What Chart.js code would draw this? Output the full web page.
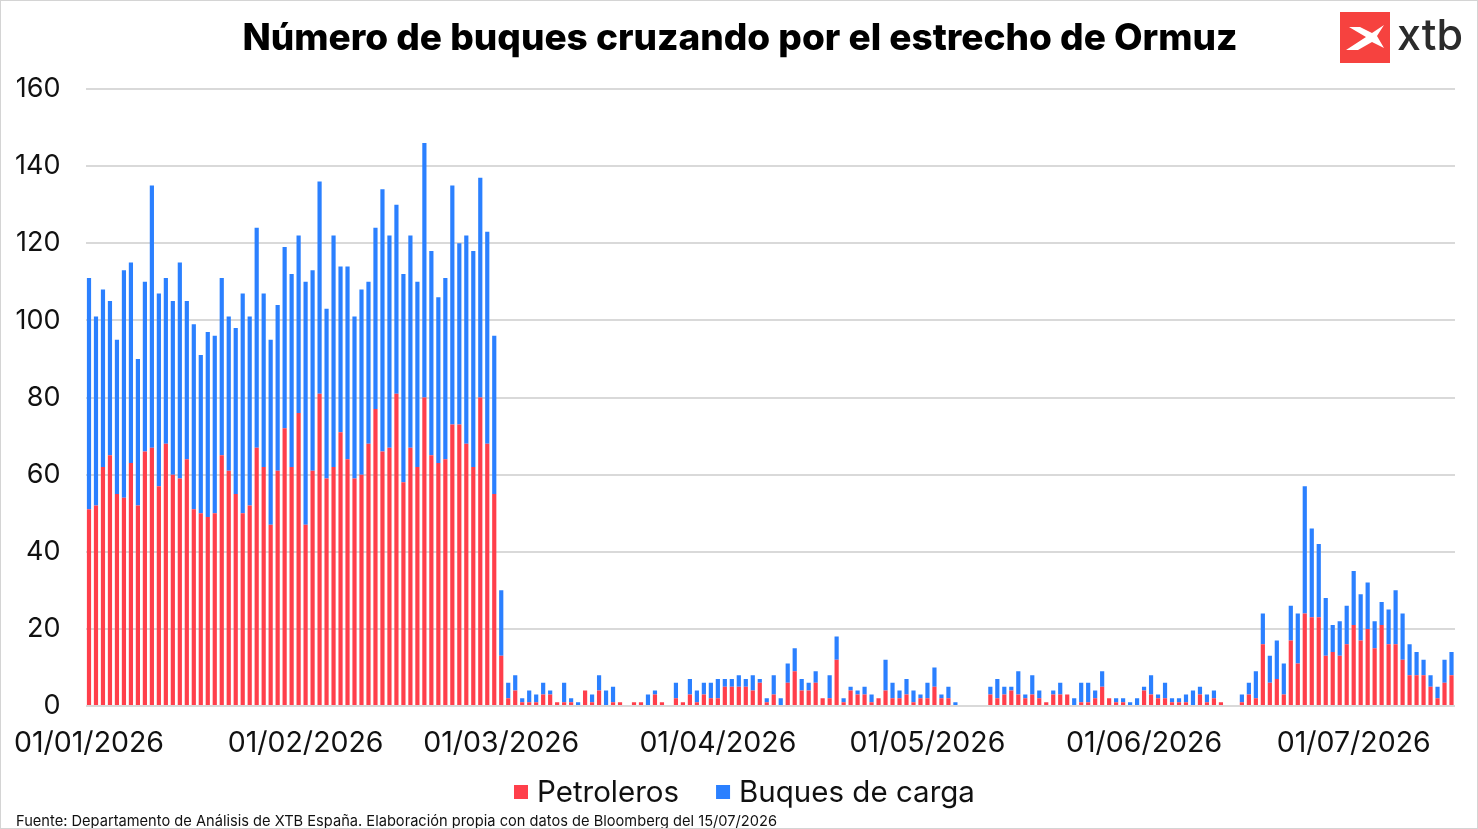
<!DOCTYPE html>
<html lang="es">
<head>
<meta charset="utf-8">
<title>Número de buques cruzando por el estrecho de Ormuz</title>
<script src="https://cdn.jsdelivr.net/npm/chart.js@4.4.1/dist/chart.umd.min.js"></script>
<style>
    html, body { margin: 0; padding: 0; background: #fff; }
    #wrap { width: 1478px; height: 829px; position: relative; }
</style>
</head>
<body>
<div id="wrap"><canvas id="ormuzChart" width="1478" height="829"></canvas></div>
<script>
// días por mes (ene-jul 2026, hasta el 15/07)
const meses = ['01', '02', '03', '04', '05', '06', '07'];
const diasMes = [31, 28, 31, 30, 31, 30, 15];

// petroleros por día
const petEne = [51, 52, 62, 65, 55, 54, 63, 52, 66, 67, 57, 68, 60, 59, 64, 51, 50, 49, 50, 65, 61, 55, 50, 52, 67, 62, 47, 61, 72, 62, 76];
const petFeb = [47, 61, 81, 59, 62, 71, 64, 59, 60, 68, 77, 66, 67, 81, 58, 67, 62, 80, 65, 63, 64, 73, 73, 68, 62, 80, 68, 55];
const petMar = [13, 2, 4, 1, 1, 1, 3, 3, 1, 1, 1, 0, 4, 1, 4, 0, 1, 1, 0, 1, 1, 0, 3, 1, 0, 2, 1, 3, 1, 3, 2];
const petAbr = [2, 5, 5, 5, 5, 4, 6, 1, 3, 0, 6, 9, 4, 4, 6, 2, 2, 12, 1, 4, 3, 3, 1, 2, 4, 2, 2, 3, 1, 2];
const petMay = [2, 5, 2, 2, 0, 0, 0, 0, 0, 3, 2, 3, 4, 3, 2, 3, 2, 1, 3, 3, 3, 0, 1, 1, 2, 5, 2, 1, 1, 0, 0];
const petJun = [4, 3, 2, 2, 1, 1, 1, 0, 3, 1, 2, 1, 0, 0, 1, 3, 2, 16, 6, 7, 3, 17, 11, 24, 23, 23, 13, 14, 13, 16];
const petJul = [21, 17, 20, 15, 21, 16, 16, 12, 8, 8, 8, 5, 2, 6, 8];

// buques de carga por día
const carEne = [60, 49, 46, 40, 40, 59, 52, 38, 44, 68, 50, 43, 45, 56, 41, 48, 41, 48, 46, 46, 40, 43, 57, 49, 57, 45, 48, 43, 47, 50, 46];
const carFeb = [63, 52, 55, 44, 60, 43, 50, 42, 48, 42, 47, 68, 55, 49, 54, 55, 48, 66, 53, 43, 47, 62, 47, 54, 56, 57, 55, 41];
const carMar = [17, 4, 4, 1, 3, 2, 3, 1, 0, 5, 1, 1, 0, 2, 4, 4, 4, 0, 0, 0, 0, 3, 1, 0, 0, 4, 0, 4, 3, 3, 4];
const carAbr = [5, 2, 2, 3, 2, 4, 1, 1, 5, 2, 5, 6, 3, 2, 3, 0, 6, 6, 1, 1, 1, 2, 2, 0, 8, 4, 2, 4, 3, 1];
const carMay = [4, 5, 1, 3, 1, 0, 0, 0, 0, 2, 5, 2, 1, 6, 1, 5, 2, 0, 1, 3, 0, 2, 5, 5, 2, 4, 0, 1, 1, 1, 2];
const carJun = [1, 5, 1, 4, 1, 1, 2, 4, 2, 2, 2, 0, 0, 0, 2, 3, 7, 8, 7, 10, 8, 9, 13, 33, 23, 19, 15, 7, 9, 10];
const carJul = [14, 12, 12, 7, 6, 9, 14, 12, 8, 6, 4, 3, 3, 6, 6];

// ticks del eje Y
const yTicks = [0, 20, 40, 60, 80, 100, 120, 140, 160];

const petroleros = [].concat(petEne, petFeb, petMar, petAbr, petMay, petJun, petJul);
const carga = [].concat(carEne, carFeb, carMar, carAbr, carMay, carJun, carJul);

// etiquetas dd/mm/2026
const fechas = [];
meses.forEach((m, i) => {
    for (let d = 1; d <= diasMes[i]; d++) {
        fechas.push(String(d).padStart(2, '0') + '/' + m + '/2026');
    }
});

const ROJO = '#FF3F4B';
const AZUL = '#2B80FF';
const FUENTE = 'Inter, "Noto Sans", sans-serif';

// título, logo, leyenda, borde y nota de fuente
const decoPlugin = {
    id: 'deco',
    afterDraw(chart) {
        const c = chart.ctx;
        c.save();

        c.fillStyle = '#000';
        c.textAlign = 'center';
        c.textBaseline = 'middle';
        c.font = '800 37px ' + FUENTE;
        c.fillText('Número de buques cruzando por el estrecho de Ormuz', 740, 39, 1002);

        // logo xtb
        c.fillStyle = '#F6423F';
        c.fillRect(1340, 12, 50, 51);
        c.fillStyle = '#fff';
        c.beginPath();
        c.moveTo(1346, 50); c.lineTo(1366, 37); c.lineTo(1349, 27); c.lineTo(1360, 27);
        c.lineTo(1372, 33); c.lineTo(1384, 25); c.lineTo(1377, 36); c.lineTo(1384, 48);
        c.lineTo(1372, 42); c.lineTo(1358, 50);
        c.closePath();
        c.fill();
        c.fillStyle = '#2b2b2b';
        c.textAlign = 'left';
        c.textBaseline = 'alphabetic';
        c.font = '500 43px ' + FUENTE;
        c.fillText('xtb', 1397, 50, 70);

        // leyenda
        c.font = '29.5px ' + FUENTE;
        c.textBaseline = 'middle';
        let x = 514;
        chart.data.datasets.forEach(ds => {
            c.fillStyle = ds.backgroundColor;
            c.fillRect(x, 785, 14, 14);
            x += 23;
            c.fillStyle = '#111';
            c.fillText(ds.label, x, 793);
            x += c.measureText(ds.label).width + 37;
        });

        // nota
        c.textBaseline = 'alphabetic';
        c.fillStyle = '#111';
        c.font = '15px ' + FUENTE;
        c.fillText('Fuente: Departamento de Análisis de XTB España. Elaboración propia con datos de Bloomberg del 15/07/2026', 16, 826, 761);

        // borde
        c.strokeStyle = '#d4d4d4';
        c.lineWidth = 1;
        c.strokeRect(0.5, 0.5, 1477, 828);
        c.restore();
    }
};

document.addEventListener('DOMContentLoaded', function() {
    const ctx = document.getElementById('ormuzChart').getContext('2d');
    new Chart(ctx, {
        type : 'bar',
        data : {
            labels : fechas,
            datasets : [ {
                label : 'Petroleros',
                data : petroleros,
                backgroundColor : ROJO,
                barPercentage : 0.6,
                categoryPercentage : 1.0
            }, {
                label : 'Buques de carga',
                data : carga,
                backgroundColor : AZUL,
                barPercentage : 0.6,
                categoryPercentage : 1.0
            } ]
        },
        options : {
            responsive : false,
            animation : false,
            layout : {
                padding : { top : 89, left : 0, right : 23, bottom : 70 }
            },
            plugins : {
                legend : { display : false },
                tooltip : { enabled : false }
            },
            scales : {
                x : {
                    stacked : true,
                    grid : { display : false },
                    border : { display : false },
                    ticks : {
                        autoSkip : false,
                        maxRotation : 0,
                        padding : 12,
                        color : '#111',
                        font : { size : 28.5, family : FUENTE },
                        callback : function(val, i) {
                            return fechas[i].startsWith('01/') ? fechas[i] : '';
                        }
                    },
                    afterFit : function(axis) { axis.height = 53; }
                },
                y : {
                    stacked : true,
                    min : 0,
                    max : 160,
                    afterBuildTicks : function(axis) {
                        axis.ticks = yTicks.map(v => ({ value : v }));
                    },
                    grid : {
                        color : '#d9d9d9',
                        lineWidth : 2,
                        drawTicks : false
                    },
                    border : { display : false },
                    ticks : {
                        padding : 25,
                        color : '#111',
                        font : { size : 27, family : FUENTE }
                    },
                    afterFit : function(axis) { axis.width = 85.5; }
                }
            }
        },
        plugins : [ decoPlugin ]
    });
});
</script>
</body>
</html>
